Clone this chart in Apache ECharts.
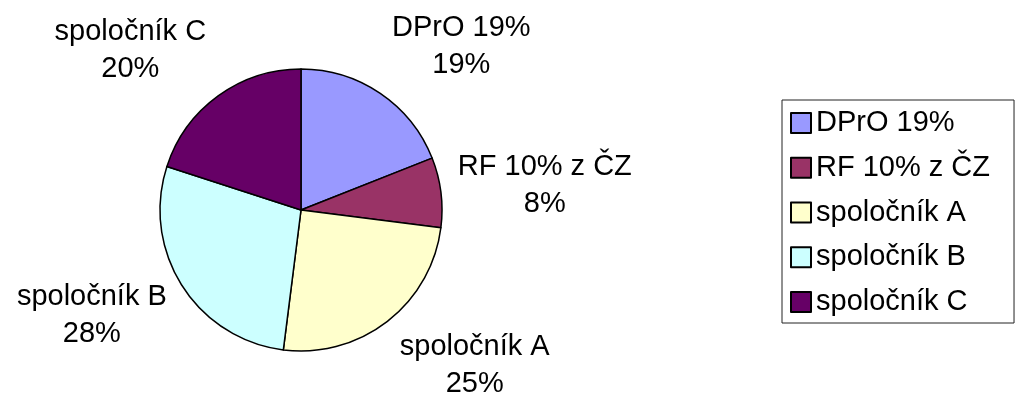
<!DOCTYPE html>
<html>
<head>
<meta charset="utf-8">
<script src="https://cdn.jsdelivr.net/npm/echarts@6/dist/echarts.min.js"></script>
<style>
  html, body { margin: 0; padding: 0; background: #fff; }
  #pie { width: 1018px; height: 405px; }
</style>
</head>
<body>
<div id="pie"></div>
<script>
// podiely
var names = ['DPrO 19%', 'RF 10% z ČZ', 'spoločník A', 'spoločník B', 'spoločník C']
var shares = [19, 8, 25, 28, 20]
var colors = ['#9999ff', '#993366', '#ffffcc', '#ccffff', '#660066']

var cx = 301
var cy = 210
var radius = 141

var total = shares.reduce(function (a, b) { return a + b }, 0)
var cum = []
shares.reduce(function (acc, v, i) { cum[i] = acc; return acc + v }, 0)

var font = "'Liberation Sans', Arial, sans-serif"
var chart = echarts.init(document.getElementById('pie'))
chart.setOption({
  animation: false,
  color: colors,
  legend: {
    orient: 'vertical',
    left: 782,
    top: 100,
    padding: [8, 24, 6, 8],
    borderColor: '#222',
    borderWidth: 1,
    itemWidth: 20,
    itemHeight: 20,
    itemGap: 14.75,
    icon: 'rect',
    itemStyle: { borderColor: '#000', borderWidth: 2 },
    textStyle: { color: '#000', fontSize: 29, lineHeight: 30, fontFamily: font },
    data: names
  },
  series: [
    {
      type: 'pie',
      center: [cx, cy],
      radius: radius,
      startAngle: 90,
      clockwise: true,
      itemStyle: { borderColor: '#000', borderWidth: 1.5 },
      emphasis: { disabled: true },
      label: {
        show: true,
        position: 'outside',
        alignTo: 'none',
        overflow: 'none',
        color: '#000',
        fontSize: 29,
        lineHeight: 37,
        fontFamily: font,
        align: 'center',
        formatter: function (p) {
          return p.name + '\n' + Math.round(p.percent) + '%'
        }
      },
      labelLine: { show: false },
      // popis: blok textu vedla okraja kruhu v smere stredu vysece
      labelLayout: function (p) {
        var i = p.dataIndex
        var mid = (cum[i] + shares[i] / 2) / total * 2 * Math.PI
        var sx = Math.sin(mid)
        var sy = -Math.cos(mid)
        var R = radius + 12
        var px = cx + R * sx
        var py = cy + R * sy
        var w = p.labelRect.width
        var h = p.labelRect.height
        return {
          x: px + (sx >= 0 ? 1 : -1) * (w / 2 + 5),
          y: py + sy * h * 0.6,
          align: 'center',
          verticalAlign: 'middle'
        }
      },
      data: names.map(function (n, i) {
        return { name: n, value: shares[i] }
      })
    }
  ]
})
</script>
</body>
</html>
